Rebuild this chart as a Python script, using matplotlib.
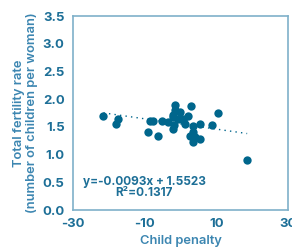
import matplotlib
matplotlib.use("Agg")
import matplotlib.pyplot as plt
import numpy as np

child_penalty = [-21.5, -17.5, -18.0, -8.5, -7.7, -5.2, -3.4, -9.0, -6.4, -1.5, -1.5,
                 -0.1, 2.8, -2.0, -0.6, 0.8, 2.2, -1.8, -2.0, 1.3, 3.6, 5.4, 3.6, 2.7,
                 4.0, 5.4, 3.6, 8.7, 10.4, 18.6, -2.2, 0.6]
fertility = [1.70, 1.65, 1.56, 1.60, 1.60, 1.60, 1.59, 1.41, 1.34, 1.90, 1.80,
             1.77, 1.87, 1.68, 1.65, 1.65, 1.70, 1.53, 1.47, 1.56, 1.51, 1.56, 1.41, 1.34,
             1.32, 1.28, 1.23, 1.54, 1.75, 0.91, 1.71, 1.62]
slope = -0.0093
intercept = 1.5523
r2 = 0.1317
xticks = [-30, -10, 10, 30]
yticks = [0.0, 0.5, 1.0, 1.5, 2.0, 2.5, 3.0, 3.5]

plt.rcParams['font.family'] = ['Inter', 'DejaVu Sans']

point_color = '#00668c'
text_color = '#1d6f97'
label_color = '#3c86b1'
spine_color = '#7fb0c9'

fig = plt.figure(figsize=(2.92, 2.49), dpi=100)
ax = fig.add_axes([73/292, 1 - 210/249, 215/292, 194/249])

ax.scatter(child_penalty, fertility, s=36, color=point_color, zorder=3, linewidths=0)
xs = np.array([min(child_penalty), max(child_penalty)])
ax.plot(xs, slope * xs + intercept, linestyle=(0, (1, 3)), color=point_color, lw=1.0, zorder=2)

ax.set_xlim(-30, 30)
ax.set_ylim(0, 3.5)
ax.set_xticks(xticks)
ax.set_yticks(yticks)
ax.set_xticklabels([str(t) for t in xticks])
ax.set_yticklabels([f"{t:.1f}" for t in yticks])
ax.tick_params(length=0, labelsize=9.5, labelcolor=text_color, pad=6)
for lab in ax.get_xticklabels() + ax.get_yticklabels():
    lab.set_fontweight('bold')
for s in ax.spines.values():
    s.set_color(spine_color)
    s.set_linewidth(1.2)

ax.set_xlabel("Child penalty", color=label_color, fontsize=9.3, fontweight='semibold', labelpad=3)
ax.set_ylabel("Total fertility rate\n(number of children per woman)", color=label_color,
              fontsize=9.3, fontweight='semibold', labelpad=3, linespacing=1.1)

ax.text(0.33, 0.145, f"y={slope:.4f}x + {intercept:.4f}", transform=ax.transAxes,
        ha='center', va='center', fontsize=8.5, fontweight='bold', color=text_color)
ax.text(0.33, 0.088, f"R²={r2:.4f}", transform=ax.transAxes,
        ha='center', va='center', fontsize=8.5, fontweight='bold', color=text_color)

fig.savefig("out.png", dpi=100)
